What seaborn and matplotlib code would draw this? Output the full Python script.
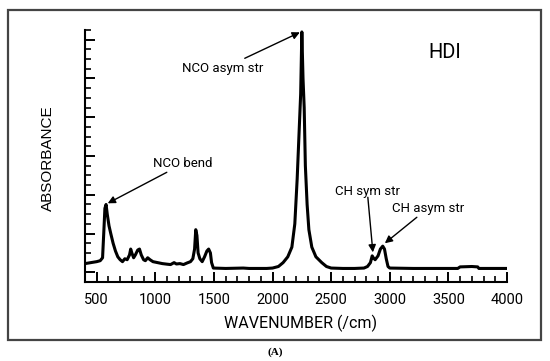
import matplotlib
matplotlib.use("Agg")
import matplotlib.pyplot as plt
import seaborn as sns
from matplotlib.patches import Rectangle
from matplotlib.ticker import MultipleLocator

# spectrum (wavenumber /cm, absorbance)
wavenumber = [400, 430, 470, 500, 530, 550, 560, 570, 580, 590, 605, 620, 640, 660, 680,
              700, 720, 740, 760, 780, 790, 800, 815, 830, 850, 865, 880, 900, 915, 935,
              955, 980, 1020, 1060, 1100, 1130, 1160, 1180, 1210, 1240, 1270, 1300, 1320,
              1335, 1345, 1355, 1365, 1380, 1400, 1420, 1440, 1455, 1470, 1480, 1495,
              1600, 1750, 1800, 1950, 2000, 2050, 2090, 2130, 2165, 2190, 2210, 2225,
              2240, 2250, 2260, 2270, 2280, 2295, 2310, 2335, 2370, 2420, 2460, 2500,
              2600, 2700, 2780, 2810, 2835, 2850, 2860, 2875, 2900, 2920, 2940, 2955,
              2970, 2985, 3000, 3200, 3400, 3580, 3600, 3700, 3750, 3760, 4000]
absorbance = [0.045, 0.048, 0.052, 0.055, 0.060, 0.075, 0.20, 0.33, 0.35, 0.30, 0.24, 0.20,
              0.15, 0.11, 0.08, 0.065, 0.055, 0.07, 0.065, 0.09, 0.12, 0.10, 0.075, 0.09,
              0.115, 0.12, 0.09, 0.065, 0.06, 0.075, 0.065, 0.055, 0.05, 0.045, 0.042, 0.04,
              0.05, 0.043, 0.045, 0.04, 0.048, 0.055, 0.07, 0.12, 0.22, 0.19, 0.10, 0.07,
              0.055, 0.08, 0.11, 0.12, 0.10, 0.05, 0.022, 0.02, 0.022, 0.02, 0.02, 0.022,
              0.03, 0.05, 0.08, 0.13, 0.25, 0.48, 0.70, 0.92, 1.24, 1.00, 0.85, 0.55, 0.35,
              0.22, 0.13, 0.08, 0.05, 0.03, 0.022, 0.02, 0.02, 0.022, 0.03, 0.05, 0.085,
              0.075, 0.065, 0.085, 0.12, 0.135, 0.12, 0.07, 0.03, 0.022, 0.02, 0.02, 0.02,
              0.028, 0.03, 0.028, 0.02, 0.02]

x_ticks = [500, 1000, 1500, 2000, 2500, 3000, 3500, 4000]

# annotations: label, text position, arrow tail, arrow tip
notes = [
    ("NCO asym str", (1575, 1.053), (1763, 1.104), (2233, 1.238)),
    ("NCO bend", (1234, 0.562), (1098, 0.516), (594, 0.356)),
    ("CH sym str", (2813, 0.418), (2813, 0.387), (2856, 0.103)),
    ("CH asym str", (3326, 0.330), (3231, 0.284), (2958, 0.150)),
]

sns.set_style("ticks")
plt.rcParams["font.family"] = ["Roboto", "DejaVu Sans"]
plt.rcParams["text.color"] = "black"
plt.rcParams["axes.labelcolor"] = "black"
plt.rcParams["xtick.color"] = "black"
plt.rcParams["ytick.color"] = "black"

fig = plt.figure(figsize=(5.5, 3.61), dpi=100)
ax = fig.add_axes([0.1545, 0.2188, 0.7673, 0.6981])

sns.lineplot(x=wavenumber, y=absorbance, ax=ax, color="black", linewidth=2.2,
             estimator=None, sort=False)

ax.set_xlim(400, 4000)
ax.set_ylim(-0.05, 1.25)
ax.set_xticks(x_ticks)
ax.xaxis.set_minor_locator(MultipleLocator(100))
ax.yaxis.set_major_locator(MultipleLocator(0.2))
ax.yaxis.set_minor_locator(MultipleLocator(0.05))
ax.set_yticklabels([])

ax.tick_params(which="both", direction="in")
ax.tick_params(which="major", length=7, width=1.4)
ax.tick_params(which="minor", length=4, width=1.2)
ax.tick_params(axis="x", which="major", labelsize=10.5, pad=8)
ax.tick_params(axis="y", left=True, labelleft=False)

for side in ["top", "right"]:
    ax.spines[side].set_visible(False)
for side in ["left", "bottom"]:
    ax.spines[side].set_linewidth(1.5)
    ax.spines[side].set_color("black")

ax.set_xlabel("WAVENUMBER (/cm)", fontsize=11.5)
ax.xaxis.set_label_coords(0.512, -0.128)
ax.set_ylabel("ABSORBANCE", fontsize=11, family="Liberation Sans")
ax.yaxis.set_label_coords(-0.07, 0.49)

for label, txt, tail, tip in notes:
    ax.text(txt[0], txt[1], label, fontsize=9.5, ha="center", va="center")
    ax.annotate("", xy=tip, xytext=tail,
                arrowprops=dict(arrowstyle="-|>", color="black", lw=1,
                                mutation_scale=11, shrinkA=0, shrinkB=0))

ax.text(3471, 1.135, "HDI", fontsize=14.5, ha="center", va="center")

# outer frame and panel letter
fig.patches.append(Rectangle((0.0145, 0.0582), 0.969, 0.914, transform=fig.transFigure,
                             fill=False, edgecolor="#444444", linewidth=1.6))
fig.text(0.5, 0.025, "(A)", fontsize=8, ha="center", va="center",
         family=["Liberation Serif", "DejaVu Serif"], fontweight="bold")

plt.savefig("out.png", dpi=100)
